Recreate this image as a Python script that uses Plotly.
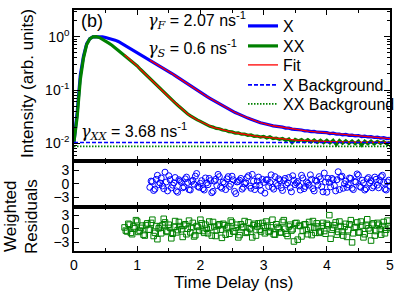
import plotly.graph_objects as go

# ---------------- data ----------------
t_data = [0.00, 0.05, 0.10, 0.15, 0.20, 0.25, 0.30, 0.35, 0.40, 0.45,
          0.50, 0.55, 0.60, 0.65, 0.70, 0.75, 0.80, 0.85, 0.90, 0.95,
          1.00, 1.05, 1.10, 1.15, 1.20, 1.25, 1.30, 1.35, 1.40, 1.45,
          1.50, 1.55, 1.60, 1.65, 1.70, 1.75, 1.80, 1.85, 1.90, 1.95,
          2.00, 2.05, 2.10, 2.15, 2.20, 2.25, 2.30, 2.35, 2.40, 2.45,
          2.50, 2.55, 2.60, 2.65, 2.70, 2.75, 2.80, 2.85, 2.90, 2.95,
          3.00, 3.05, 3.10, 3.15, 3.20, 3.25, 3.30, 3.35, 3.40, 3.45,
          3.50, 3.55, 3.60, 3.65, 3.70, 3.75, 3.80, 3.85, 3.90, 3.95,
          4.00, 4.05, 4.10, 4.15, 4.20, 4.25, 4.30, 4.35, 4.40, 4.45,
          4.50, 4.55, 4.60, 4.65, 4.70, 4.75, 4.80, 4.85, 4.90, 4.95,
          5.00]

x_data = [0.0107, 0.0380, 0.190, 0.430, 0.735, 0.915, 0.990, 1.0, 1.0, 0.990,
          0.966, 0.940, 0.912, 0.861, 0.813, 0.750, 0.692, 0.638, 0.589, 0.543,
          0.501, 0.462, 0.427, 0.394, 0.363, 0.335, 0.309, 0.288, 0.269, 0.245,
          0.224, 0.204, 0.186, 0.170, 0.155, 0.140, 0.126, 0.115, 0.105, 0.0966,
          0.0891, 0.0822, 0.0759, 0.0700, 0.0646, 0.0596, 0.0550, 0.0507, 0.0468, 0.0437,
          0.0409, 0.0379, 0.0357, 0.0334, 0.0318, 0.0298, 0.0284, 0.0268, 0.0259, 0.0244,
          0.0236, 0.0225, 0.0221, 0.0213, 0.0211, 0.0203, 0.0202, 0.0194, 0.0193, 0.0185,
          0.0184, 0.0178, 0.0178, 0.0172, 0.0172, 0.0166, 0.0168, 0.0162, 0.0162, 0.0157,
          0.0159, 0.0153, 0.0155, 0.0149, 0.0150, 0.0144, 0.0147, 0.0142, 0.0143, 0.0138,
          0.0140, 0.0134, 0.0137, 0.0132, 0.0134, 0.0129, 0.0131, 0.0126, 0.0128, 0.0123,
          0.0125]

xx_data = [0.0107, 0.0316, 0.158, 0.398, 0.708, 0.912, 0.989, 1.0, 0.966, 0.902,
           0.832, 0.759, 0.692, 0.617, 0.550, 0.501, 0.457, 0.407, 0.363, 0.324,
           0.282, 0.245, 0.214, 0.186, 0.162, 0.143, 0.126, 0.111, 0.0977, 0.0851,
           0.0741, 0.0653, 0.0575, 0.0507, 0.0447, 0.0398, 0.0355, 0.0324, 0.0295, 0.0275,
           0.0259, 0.0238, 0.0226, 0.0209, 0.0202, 0.0191, 0.0188, 0.0178, 0.0176, 0.0166,
           0.0164, 0.0156, 0.0157, 0.0149, 0.0150, 0.0142, 0.0144, 0.0136, 0.0137, 0.0131,
           0.0135, 0.0126, 0.0133, 0.0123, 0.0126, 0.0119, 0.0124, 0.0114, 0.0121, 0.0103,
           0.0119, 0.0111, 0.0118, 0.0108, 0.0117, 0.0106, 0.0116, 0.0104, 0.0115, 0.0103,
           0.0114, 0.0102, 0.0114, 0.0095, 0.0113, 0.0101, 0.0112, 0.0100, 0.0111, 0.0099,
           0.0111, 0.0093, 0.0110, 0.0099, 0.0110, 0.0098, 0.0109, 0.0100, 0.0108, 0.0097,
           0.0107]

# fits (X fit starts at 1.20 ns, XX fit at 0.80 ns)
t_fit_x = t_data[24:]
x_fit = [0.363, 0.335, 0.309, 0.288, 0.269, 0.245,
         0.224, 0.204, 0.186, 0.170, 0.155, 0.140, 0.126, 0.115, 0.105, 0.0966,
         0.0891, 0.0822, 0.0759, 0.0700, 0.0646, 0.0596, 0.0550, 0.0507, 0.0468, 0.0437,
         0.0407, 0.0380, 0.0355, 0.0335, 0.0316, 0.0299, 0.0282, 0.0269, 0.0257, 0.0245,
         0.0234, 0.0226, 0.0219, 0.0214, 0.0209, 0.0204, 0.0200, 0.0195, 0.0191, 0.0186,
         0.0182, 0.0179, 0.0176, 0.0173, 0.0170, 0.0168, 0.0166, 0.0163, 0.0160, 0.0158,
         0.0157, 0.0155, 0.0153, 0.0150, 0.0148, 0.0146, 0.0145, 0.0143, 0.0141, 0.0140,
         0.0138, 0.0136, 0.0135, 0.0133, 0.0132, 0.0130, 0.0129, 0.0127, 0.0126, 0.0124,
         0.0123]
t_fit_xx = t_data[16:]
xx_fit = [0.457, 0.407, 0.363, 0.324,
          0.282, 0.245, 0.214, 0.186, 0.162, 0.143, 0.126, 0.111, 0.0977, 0.0851,
          0.0741, 0.0653, 0.0575, 0.0507, 0.0447, 0.0398, 0.0355, 0.0324, 0.0295, 0.0275,
          0.0257, 0.0240, 0.0224, 0.0211, 0.0200, 0.0193, 0.0186, 0.0180, 0.0174, 0.0168,
          0.0162, 0.0158, 0.0155, 0.0151, 0.0148, 0.0145, 0.0141, 0.0138, 0.0135, 0.0133,
          0.0132, 0.0130, 0.0129, 0.0126, 0.0123, 0.0122, 0.0120, 0.0119, 0.0117, 0.0116,
          0.0115, 0.0114, 0.0114, 0.0113, 0.0112, 0.0112, 0.0111, 0.0110, 0.0110, 0.0109,
          0.0108, 0.0108, 0.0108, 0.0107, 0.0107, 0.0107, 0.0107, 0.0106, 0.0106, 0.0106,
          0.0106, 0.0106, 0.0105, 0.0105, 0.0105, 0.0105, 0.0105, 0.0105, 0.0104, 0.0104,
          0.0104]

t_bg = [0.0, 5.0]
x_bg = [0.0104, 0.0104]
xx_bg = [0.0088, 0.0088]

# weighted residuals (two interleaved sets of time bins)
t_res_xx = [0.80, 0.84, 0.88, 0.92, 0.96, 1.00, 1.04, 1.08, 1.12, 1.16,
            1.20, 1.24, 1.28, 1.32, 1.36, 1.40, 1.44, 1.48, 1.52, 1.56,
            1.60, 1.64, 1.68, 1.72, 1.76, 1.80, 1.84, 1.88, 1.92, 1.96,
            2.00, 2.04, 2.08, 2.12, 2.16, 2.20, 2.24, 2.28, 2.32, 2.36,
            2.40, 2.44, 2.48, 2.52, 2.56, 2.60, 2.64, 2.68, 2.72, 2.76,
            2.80, 2.84, 2.88, 2.92, 2.96, 3.00, 3.04, 3.08, 3.12, 3.16,
            3.20, 3.24, 3.28, 3.32, 3.36, 3.40, 3.44, 3.48, 3.52, 3.56,
            3.60, 3.64, 3.68, 3.72, 3.76, 3.80, 3.84, 3.88, 3.92, 3.96,
            4.00, 4.04, 4.08, 4.12, 4.16, 4.20, 4.24, 4.28, 4.32, 4.36,
            4.40, 4.44, 4.48, 4.52, 4.56, 4.60, 4.64, 4.68, 4.72, 4.76,
            4.80, 4.84, 4.88, 4.92, 4.96, 5.00]
t_res_xx2 = [0.82, 0.86, 0.90, 0.94, 0.98, 1.02, 1.06, 1.10, 1.14, 1.18,
             1.22, 1.26, 1.30, 1.34, 1.38, 1.42, 1.46, 1.50, 1.54, 1.58,
             1.62, 1.66, 1.70, 1.74, 1.78, 1.82, 1.86, 1.90, 1.94, 1.98,
             2.02, 2.06, 2.10, 2.14, 2.18, 2.22, 2.26, 2.30, 2.34, 2.38,
             2.42, 2.46, 2.50, 2.54, 2.58, 2.62, 2.66, 2.70, 2.74, 2.78,
             2.82, 2.86, 2.90, 2.94, 2.98, 3.02, 3.06, 3.10, 3.14, 3.18,
             3.22, 3.26, 3.30, 3.34, 3.38, 3.42, 3.46, 3.50, 3.54, 3.58,
             3.62, 3.66, 3.70, 3.74, 3.78, 3.82, 3.86, 3.90, 3.94, 3.98,
             4.02, 4.06, 4.10, 4.14, 4.18, 4.22, 4.26, 4.30, 4.34, 4.38,
             4.42, 4.46, 4.50, 4.54, 4.58, 4.62, 4.66, 4.70, 4.74, 4.78,
             4.82, 4.86, 4.90, 4.94, 4.98]
res_xx = [0.3, -0.6, 0.9, -1.2, 0.1, 1.6, -0.4, 0.7, -1.5, 1.2,
          -0.2, 2.0, -0.9, -2.3, 0.5, 0.8, 1.4, -0.7, 0.2, -1.1,
          1.7, -0.3, 0.6, -1.8, 1.0, 0.0, -0.8, 1.3, -1.4, 0.4,
          2.0, -0.5, 0.9, -1.0, 0.3, 1.5, -1.6, 0.7, -0.2, 1.1,
          -1.3, 0.5, 1.8, -0.6, 0.2, -1.9, 1.0, 0.4, -0.9, 1.4,
          -0.1, 0.8, -1.5, 1.2, -0.6, 0.6, 1.6, -0.7, 0.3, -1.2,
          1.0, 0.1, -0.8, 1.9, -1.1, 0.5, -0.4, -2.8, 1.3, 0.7,
          -1.7, 0.9, -0.3, 1.5, -1.4, 0.2, 1.2, -0.9, 0.6, -0.5,
          1.1, 3.0, -0.2, 0.8, -1.3, 1.6, -0.6, 0.4, -1.8, 1.0,
          -3.0, 0.3, 1.4, -0.8, 0.7, -1.2, 2.1, -0.4, 0.9, -1.5,
          1.3, -0.1, 0.6, -1.0, 1.8, 0.2]
res_xx2 = [-0.4, 1.1, -0.9, 0.5, 1.9, -0.7, 0.2, -1.3, 0.8, -0.2,
           1.3, -1.6, 0.6, 0.1, -1.0, 2.2, -0.5, 0.9, -2.1, 0.4,
           -0.8, 1.5, -0.1, 0.7, -1.2, 1.8, 0.3, -1.7, 0.6, -0.4,
           1.2, -0.9, 0.0, 1.6, -1.5, 0.5, -0.3, 1.0, -2.0, 0.8,
           0.2, -1.1, 1.4, -0.6, 0.9, -1.4, 0.3, 1.7, -0.7, 0.1,
           -1.9, 1.1, 0.5, -0.2, 1.3, -1.0, 0.7, -0.5, 2.0, -1.3,
           0.4, -0.8, 1.5, 0.0, -1.6, 0.9, -0.1, 1.2, -2.4, 0.6,
           -0.4, 1.0, -1.2, 0.3, 1.7, -0.9, 0.5, -0.6, 1.3, -1.1,
           0.8, -2.2, 0.2, 1.4, -0.7, 0.6, -1.5, 1.1, -0.3, 1.9,
           -1.0, 0.4, -0.8, 1.6, -1.9, 0.7, 0.1, -2.6, 1.2, -0.5,
           0.9, -1.3, 1.5, -0.2, 0.6]
t_res_x = t_res_xx[10:]
t_res_x2 = t_res_xx2[10:]
res_x = [-0.8, 0.5, -1.2, 1.9, 0.2, -0.5, 2.6, -1.6, 0.9, -0.3,
         1.4, -1.9, 0.6, -0.9, 1.1, 0.3, -1.4, 0.8, 1.7, -0.6,
         0.1, -1.1, 1.3, -0.2, 0.7, -1.7, 1.0, 2.1, -0.7, 0.4,
         -1.3, 1.6, -0.1, 0.9, -2.2, 0.5, 1.2, -0.8, 0.2, 1.8,
         -1.0, 0.6, -0.4, 1.5, -1.5, 0.3, 0.9, -0.6, 2.0, -1.2,
         0.1, 1.1, -0.9, 0.7, -0.2, 1.4, -1.8, 0.8, 0.2, -0.5,
         1.9, -1.1, 0.4, -0.3, 1.0, -1.6, 0.6, 1.6, -0.7, 2.4,
         -1.9, 0.3, 1.2, -0.4, 0.9, -1.3, 1.7, 0.0, -0.8, 1.3,
         -1.0, 0.5, 2.2, -0.6, 0.8, -1.4, 1.1, 0.2, -0.9, 1.5,
         -0.3, 0.7, 1.9, -1.2, 0.4, -0.5]
res_x2 = [0.6, -1.5, 1.0, -0.2, 1.3, -1.1, 0.4, 1.8, -0.9, 0.2,
          -1.6, 0.9, 0.3, -0.7, 1.5, -1.3, 0.5, -0.1, 2.3, -0.8,
          0.7, -1.4, 0.2, 1.2, -2.0, 0.6, -0.4, 1.6, -1.0, 0.1,
          1.1, -0.6, 1.7, -1.7, 0.4, 0.8, -1.2, 0.0, 1.4, -0.5,
          2.1, -1.3, 0.6, -0.3, 1.0, -2.1, 0.9, 0.3, -0.8, 1.6,
          -0.4, 0.7, -1.5, 1.2, 0.2, -0.9, 1.8, -0.2, 0.5, -1.4,
          1.3, -0.6, 0.1, 2.0, -1.1, 0.8, -0.3, 1.1, -1.8, 0.4,
          1.2, -0.7, 0.9, -1.6, 2.7, 1.5, -1.0, 0.6, -0.2, 1.2,
          -1.3, 0.4, 1.9, -0.8, 0.2, -1.1, 1.4, 0.7, -0.5, 1.0,
          -0.9, 1.6, 0.3, -1.4, 0.8]

x_ticks = [0, 1, 2, 3, 4, 5]
log_tickvals = [0.01, 0.1, 1]
log_ticktext = ["10<sup>-2</sup>", "10<sup>-1</sup>", "10<sup>0</sup>"]
log_minor = [0.005, 0.006, 0.007, 0.008, 0.009,
             0.02, 0.03, 0.04, 0.05, 0.06, 0.07, 0.08, 0.09,
             0.2, 0.3, 0.4, 0.5, 0.6, 0.7, 0.8, 0.9, 2, 3]
res_ticks = [-3, 0, 3]

BLUE = "#0000ff"
GREEN = "#008000"
RED = "#ff0000"
FONT = "Liberation Sans"

fig = go.Figure()

fig.add_trace(go.Scatter(x=t_data, y=x_data, mode="lines", name="X",
                         line=dict(color=BLUE, width=3.2), legend="legend",
                         xaxis="x", yaxis="y"))
fig.add_trace(go.Scatter(x=t_data, y=xx_data, mode="lines", name="XX",
                         line=dict(color=GREEN, width=3.2), legend="legend2",
                         xaxis="x", yaxis="y"))
fig.add_trace(go.Scatter(x=t_fit_x, y=x_fit, mode="lines", name="Fit",
                         line=dict(color=RED, width=1.3), legend="legend3",
                         xaxis="x", yaxis="y"))
fig.add_trace(go.Scatter(x=t_fit_xx, y=xx_fit, mode="lines", name="Fit",
                         line=dict(color=RED, width=1.3), showlegend=False,
                         xaxis="x", yaxis="y"))
fig.add_trace(go.Scatter(x=t_bg, y=x_bg, mode="lines", name="X Background",
                         line=dict(color=BLUE, width=1.6, dash="4px,2px"),
                         legend="legend4", xaxis="x", yaxis="y"))
fig.add_trace(go.Scatter(x=t_bg, y=xx_bg, mode="lines", name="XX Background",
                         line=dict(color=GREEN, width=1.6, dash="1.5px,1.5px"),
                         legend="legend5", xaxis="x", yaxis="y"))

fig.add_trace(go.Scatter(x=t_res_x + t_res_x2, y=res_x + res_x2, mode="markers",
                         showlegend=False,
                         marker=dict(symbol="circle-open", color=BLUE, size=6,
                                     line=dict(width=1)),
                         xaxis="x2", yaxis="y2"))
fig.add_trace(go.Scatter(x=t_res_xx + t_res_xx2, y=res_xx + res_xx2, mode="markers",
                         showlegend=False,
                         marker=dict(symbol="square-open", color=GREEN, size=5.5,
                                     line=dict(width=1)),
                         xaxis="x3", yaxis="y3"))

W, H = 399, 292
L, T = 74, 10
RIGHT_EDGE = 390
BOTTOM_EDGE = 251
R = W - RIGHT_EDGE
B = H - BOTTOM_EDGE
PH = H - T - B
PW = W - L - R


def py(p):
    return (BOTTOM_EDGE - p) / PH


def px(p):
    return (p - L) / PW


axis_common = dict(showline=True, linecolor="black", linewidth=1.6,
                   mirror="allticks", ticks="inside", tickcolor="black",
                   tickwidth=1.2, showgrid=False, zeroline=False,
                   tickfont=dict(family=FONT, size=14, color="black"))

xaxis_common = dict(axis_common, range=[0, 5], tickvals=x_ticks, ticklen=5,
                    minor=dict(dtick=0.5, tick0=0, ticks="inside", ticklen=3,
                               tickcolor="black", tickwidth=1))

fig.update_layout(
    width=W, height=H,
    margin=dict(l=L, r=R, t=T, b=B, autoexpand=False),
    paper_bgcolor="white", plot_bgcolor="white",
    font=dict(family=FONT, color="black"),
    xaxis=dict(xaxis_common, domain=[0, 1], anchor="y", showticklabels=False),
    xaxis2=dict(xaxis_common, domain=[0, 1], anchor="y2", showticklabels=False,
                matches="x"),
    xaxis3=dict(xaxis_common, domain=[0, 1], anchor="y3", showticklabels=True,
                matches="x"),
    yaxis=dict(axis_common, type="log", range=[-2.33, 0.5],
               domain=[py(161), 1], anchor="x",
               tickvals=log_tickvals, ticktext=log_ticktext, ticklen=6,
               minor=dict(tickvals=log_minor, ticks="inside", ticklen=3,
                          tickcolor="black", tickwidth=1)),
    yaxis2=dict(axis_common, range=[-5.2, 5.1], domain=[py(207), py(161)],
                anchor="x2", tickvals=res_ticks, ticklen=5),
    yaxis3=dict(axis_common, range=[-4.9, 4.8], domain=[0, py(207)],
                anchor="x3", tickvals=res_ticks, ticklen=5),
)

leg = dict(font=dict(family=FONT, size=16, color="black"), bgcolor="rgba(0,0,0,0)",
           itemwidth=30, xanchor="left", yanchor="middle", x=px(243),
           tracegroupgap=0)
fig.update_layout(
    legend=dict(leg, y=py(26)),
    legend2=dict(leg, y=py(46)),
    legend3=dict(leg, y=py(65)),
    legend4=dict(leg, y=py(85)),
    legend5=dict(leg, y=py(104)),
)

gfont = "DejaVu Serif"
ann = [
    dict(text="(b)", x=px(79), y=py(21), size=18),
    dict(text=f'<span style="font-family:{gfont}"><i>γ</i><sub><i>F</i></sub></span> = 2.07 ns<sup>-1</sup>',
         x=px(146), y=py(21), size=16),
    dict(text=f'<span style="font-family:{gfont}"><i>γ</i><sub><i>S</i></sub></span> = 0.6 ns<sup>-1</sup>',
         x=px(146), y=py(48), size=16),
    dict(text=f'<span style="font-family:{gfont}"><i>γ</i><sub><i>XX</i></sub></span> = 3.68 ns<sup>-1</sup>',
         x=px(79), y=py(131), size=16),
]
for a in ann:
    fig.add_annotation(text=a["text"], x=a["x"], y=a["y"], xref="paper", yref="paper",
                       xanchor="left", yanchor="middle", showarrow=False,
                       font=dict(family=FONT, size=a["size"], color="black"))

fig.add_annotation(text="Intensity (arb. units)", x=px(27), y=py(84), xref="paper",
                   yref="paper", textangle=-90, showarrow=False,
                   xanchor="center", yanchor="middle",
                   font=dict(family=FONT, size=17, color="black"))
fig.add_annotation(text="Weighted", x=px(10), y=py(216), xref="paper",
                   yref="paper", textangle=-90, showarrow=False,
                   xanchor="center", yanchor="middle",
                   font=dict(family=FONT, size=17, color="black"))
fig.add_annotation(text="Residuals", x=px(31), y=py(217), xref="paper",
                   yref="paper", textangle=-90, showarrow=False,
                   xanchor="center", yanchor="middle",
                   font=dict(family=FONT, size=17, color="black"))
fig.add_annotation(text="Time Delay (ns)", x=px(233), y=py(282), xref="paper",
                   yref="paper", showarrow=False,
                   xanchor="center", yanchor="middle",
                   font=dict(family=FONT, size=17, color="black"))

# remove the browser's default 8px page margin so the figure sits at (0, 0)
fig.write_html("out.html",
               config={"displayModeBar": False},
               post_script="document.body.style.margin='0';"
                           "document.body.style.overflow='hidden';")
